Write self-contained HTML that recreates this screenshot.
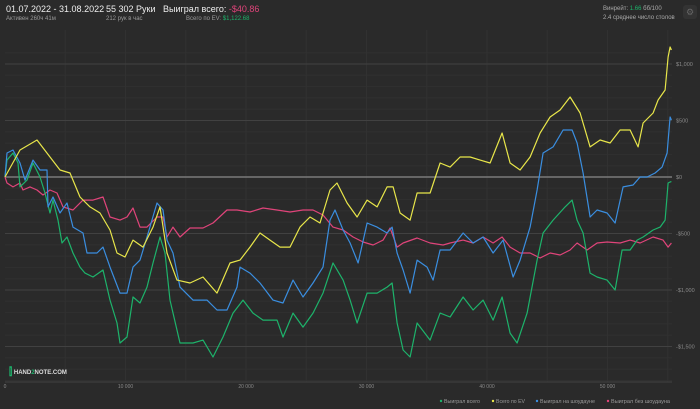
<!DOCTYPE html>
<html><head><meta charset="utf-8"><style>
body{margin:0;background:#2a2a2a;width:700px;height:409px;overflow:hidden;font-family:"Liberation Sans",sans-serif;color:#ddd;position:relative}
.t{position:absolute;white-space:nowrap}
</style></head><body>
<div class="t" style="left:6px;top:4px;font-size:9px;color:#eee">01.07.2022 - 31.08.2022</div>
<div class="t" style="left:6px;top:16px;font-size:6px;color:#999">Активен 260ч 41м</div>
<div class="t" style="left:106px;top:4px;font-size:9px;color:#eee">55 302 Руки</div>
<div class="t" style="left:106px;top:16px;font-size:6px;color:#999">212 рук в час</div>
<div class="t" style="left:163px;top:4px;font-size:9px;color:#eee">Выиграл всего: <span style="color:#e0447a">-$40.86</span></div>
<div class="t" style="left:186px;top:16px;font-size:6px;color:#999">Всего по EV: <span style="color:#1db36b">$1,122.68</span></div>
<div class="t" style="left:603px;top:6px;font-size:6px;color:#aaa">Винрейт: <span style="color:#1db36b">1.66</span> бб/100</div>
<div class="t" style="left:603px;top:15px;font-size:6px;color:#aaa">2.4 среднее число столов</div>
<div class="t" style="left:683px;top:5px;width:14px;height:14px;border-radius:3px;background:#333;color:#666;font-size:9px;text-align:center;line-height:14px">⚙</div>
<svg id="chart" width="700" height="409" style="position:absolute;left:0;top:0"></svg>
<div class="t" style="left:9px;top:367px;font-size:6px;color:#ddd;font-weight:bold"><span style="color:#1db36b;font-size:10px;vertical-align:middle">⫿</span> HAND<span style="color:#1db36b">2</span>NOTE.COM</div>
<script>
const hG=[0,166,664,1079,1245,1826,2324,2905,3320,3735,3984,4399,4731,5146,5644,6225,6640,7304,8134,8715,9296,9545,10126,10624,11205,11786,12284,12865,13280,13695,14525,15604,16434,17264,18094,18924,19754,20584,21414,22576,23074,23904,24734,25564,26394,27224,28054,28635,29216,30046,30876,31706,32121,32536,33034,33615,34196,35275,36105,36935,38014,38844,39674,40504,41251,41915,42496,43326,44156,44654,45484,46480,47061,47476,47974,48555,49136,49966,50630,51211,51875,52456,52954,53784,54365,54780,55029,55195,55302];
const vG=[0,150,212,124,-88,-27,124,0,-142,-319,-204,-381,-584,-531,-673,-797,-850,-885,-823,-1089,-1292,-1469,-1416,-1062,-1115,-974,-761,-531,-673,-1089,-1469,-1469,-1443,-1593,-1416,-1204,-1089,-1204,-1266,-1266,-1416,-1204,-1328,-1204,-1027,-761,-912,-1089,-1292,-1027,-1027,-974,-938,-1292,-1531,-1593,-1292,-1443,-1204,-1239,-1062,-1177,-1089,-1266,-1062,-1381,-1469,-1204,-735,-496,-381,-265,-204,-381,-496,-850,-885,-912,-1000,-646,-646,-558,-531,-469,-443,-381,-53,-44,-41];
const hY=[0,1245,2656,3735,4565,5395,6225,7055,7885,8715,9296,9960,10624,11454,12284,12865,13446,14276,15355,16434,17596,18675,19505,20335,21165,21995,22825,23655,24485,25315,26145,26975,27556,28386,29216,30046,30876,31706,32204,32785,33615,34196,35275,36105,36935,37765,38595,39425,40255,41251,41915,42745,43575,44405,45235,46065,46895,47725,48555,49385,50215,51045,51875,52539,52954,53784,54199,54780,55029,55195,55302];
const vY=[0,239,327,177,62,35,-177,-265,-319,-469,-673,-708,-558,-620,-443,-265,-673,-912,-938,-885,-1027,-761,-735,-620,-496,-558,-620,-620,-443,-354,-407,-115,-53,-230,-354,-204,-265,-88,-88,-319,-381,-142,-142,124,88,177,177,150,124,389,124,62,177,389,531,593,708,566,266,327,301,416,416,266,478,566,681,770,1062,1150,1124];
const hB=[0,166,664,1245,1660,2324,2905,3486,3569,3984,4565,5146,5644,6474,6806,7636,8134,8715,9545,10126,10624,11205,11786,12616,13114,13446,13944,14525,15604,16766,17596,18426,19256,19505,20335,21165,22244,23074,23904,24734,25564,26394,26975,27390,28054,28635,29299,30046,30876,31706,32121,32536,33034,33615,34196,35026,35524,36105,36935,38014,38844,39674,40504,41334,42164,42745,43575,44156,44654,45484,46314,47061,47476,47974,48555,49136,49966,50630,51294,52124,52705,53286,53950,54531,54946,55195,55302];
const vB=[0,212,239,124,-27,150,62,62,-265,-177,-319,-230,-443,-496,-673,-673,-620,-797,-1027,-1027,-797,-735,-531,-230,-292,-558,-673,-974,-1089,-1089,-1177,-1177,-974,-797,-850,-938,-1089,-1115,-912,-1062,-938,-797,-381,-292,-469,-584,-761,-407,-443,-496,-443,-673,-823,-1027,-735,-797,-912,-646,-646,-496,-584,-531,-673,-558,-885,-735,-443,-115,212,266,416,416,301,35,-354,-292,-319,-407,-88,-71,0,0,35,88,212,531,504];
const hP=[0,166,664,1245,1494,2075,2656,3154,3735,4316,4814,5644,6474,7304,8134,8715,9545,10126,10624,11205,11786,12616,13114,13446,13944,14525,15355,16434,17264,18426,19256,20335,21414,22576,23655,24734,25564,26394,27224,28054,28884,29714,30544,31374,31955,32536,33034,34196,35275,36354,36935,38014,38844,39674,40504,41251,41915,42745,43575,44405,45235,46065,46895,47476,48306,49136,49966,51045,51875,52705,53784,54614,55029,55302];
const vP=[0,-53,-88,-53,-115,-88,-115,-159,-115,-142,-265,-292,-204,-204,-177,-354,-381,-354,-274,-443,-443,-354,-354,-531,-443,-531,-451,-451,-407,-292,-292,-310,-274,-292,-310,-292,-292,-336,-443,-469,-531,-575,-602,-558,-451,-620,-584,-540,-584,-602,-584,-558,-584,-531,-584,-531,-620,-673,-673,-717,-673,-690,-646,-584,-646,-584,-575,-584,-558,-584,-531,-558,-620,-584];
const xTicks=[0,10000,20000,30000,40000,50000];
const xTickLabels=["0","10 000","20 000","30 000","40 000","50 000"];
const yTicks=[1000,500,0,-500,-1000,-1500];
const yTickLabels=["$1,000","$500","$0","-$500","-$1,000","-$1,500"];
const legendNames=["Выиграл всего","Всего по EV","Выиграл на шоудауне","Выиграл без шоудауна"];
const colors=["#1db36b","#e8e64a","#3a8ee0","#e0447a"];
const X=h=>5+h*0.01205, Y=v=>177-v*0.113;
const svg=document.getElementById('chart'),NS='http://www.w3.org/2000/svg';
function mk(t,a,p){const e=document.createElementNS(NS,t);for(const k in a)e.setAttribute(k,a[k]);(p||svg).appendChild(e);return e;}
for(let v=-1800;v<=1150;v+=100){if(v%500===0)continue;const l=mk('line',{x1:5,x2:672,y1:Y(v),y2:Y(v),stroke:'#303030','stroke-width':1});

}
for(let h=5000;h<56000;h+=5000){const l=mk('line',{x1:X(h),x2:X(h),y1:30,y2:382,stroke:'#313131','stroke-width':1});

}
yTicks.forEach((v,i)=>{const l=mk('line',{x1:5,x2:672,y1:Y(v),y2:Y(v),stroke:v===0?'#7a7a7a':'#414141','stroke-width':v===0?1.5:1});


const t=mk('text',{x:676,y:Y(v)+2,fill:'#8a8a8a','font-size':5.5,'font-family':'Liberation Sans'});t.textContent=yTickLabels[i];

});
const bl=mk('line',{x1:5,x2:672,y1:382,y2:382,stroke:'#414141'});


xTicks.forEach((h,i)=>{const t=mk('text',{x:X(h),y:388,fill:'#8a8a8a','font-size':5,'font-family':'Liberation Sans','text-anchor':'middle'});t.textContent=xTickLabels[i];

});
const series=[[hG,vG],[hY,vY],[hB,vB],[hP,vP]];
const order=[3,0,2,1];
order.forEach(i=>{const [hs,vs]=series[i];const d=hs.map((h,j)=>(j?'L':'M')+X(h).toFixed(1)+','+Y(vs[j]).toFixed(1)).join('');
const p=mk('path',{d:d,fill:'none',stroke:colors[i],'stroke-width':1.2,'stroke-linejoin':'round'});

});
const lx=[441,493,537,608];
const lw=[39,32,58,62];
legendNames.forEach((n,i)=>{const g=mk('g',{});


mk('circle',{cx:lx[i],cy:401,r:1.2,fill:colors[i]},g);
const t=mk('text',{x:lx[i]+3,y:403,fill:'#9a9a9a','font-size':5.5,'font-family':'Liberation Sans',textLength:lw[i]-3,lengthAdjust:'spacingAndGlyphs'},g);t.textContent=n;});
</script>
</body></html>
